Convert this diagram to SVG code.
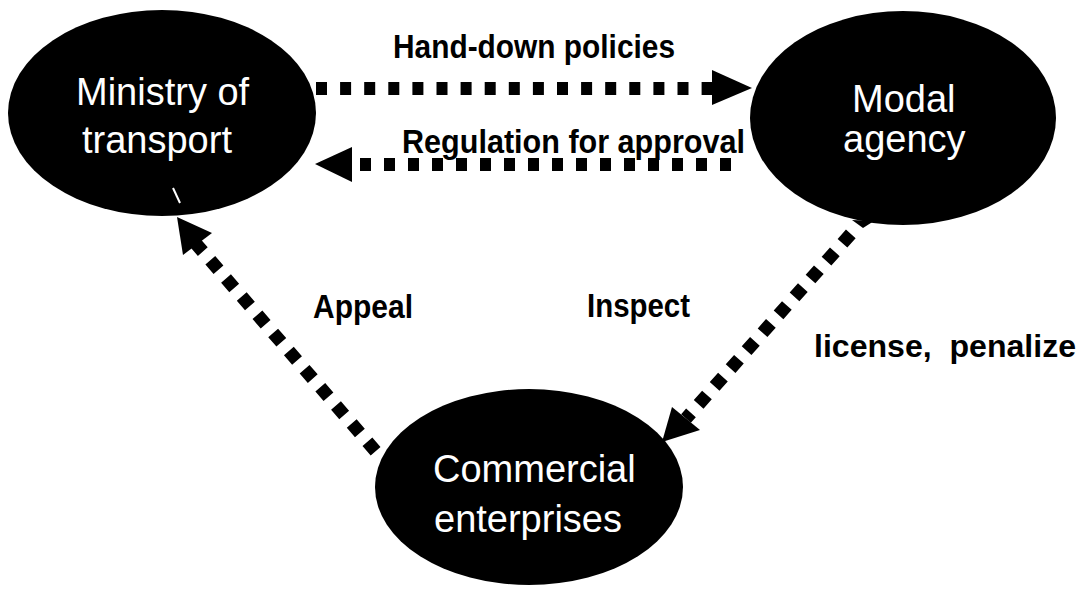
<svg xmlns="http://www.w3.org/2000/svg" width="1089" height="590" viewBox="0 0 1089 590">
  <style>
    .node { fill: #000; }
    .node-label { font-family: "Liberation Sans", Arial, sans-serif; font-size: 38px; fill: #fff; }
    .edge-label { font-family: "Liberation Sans", Arial, sans-serif; font-size: 34px; font-weight: bold; fill: #000; }
    .edge-label.side { font-size: 32px; }
    .dash { stroke: #000; stroke-width: 13; fill: none; stroke-linecap: butt; }
    .diag { stroke: #000; stroke-width: 13; fill: none; stroke-linecap: butt; stroke-dasharray: 12.5 11.5; }
    .head { fill: #000; }
  </style>
  <rect width="1089" height="590" fill="#fff"/>

  <!-- Nodes -->
  <g id="ministry">
    <ellipse class="node" cx="162" cy="113" rx="154" ry="103"/>
    <text class="node-label" x="76" y="105">Ministry of</text>
    <text class="node-label" x="82" y="153">transport</text>
    <line x1="173" y1="188" x2="180" y2="203" stroke="#fff" stroke-width="2"/>
  </g>

  <g id="modal-agency">
    <ellipse class="node" cx="903" cy="118" rx="153" ry="107"/>
    <polygon class="node" points="852,220 863,228 874,221"/>
    <text class="node-label" x="852" y="112">Modal</text>
    <text class="node-label" x="843" y="152">agency</text>
  </g>

  <g id="commercial">
    <ellipse class="node" cx="529" cy="487" rx="154" ry="98"/>
    <text class="node-label" x="433" y="482">Commercial</text>
    <text class="node-label" x="434" y="532">enterprises</text>
  </g>

  <!-- Connectors -->
  <g id="connectors">
    <!-- Ministry -> Modal agency -->
    <line class="dash" x1="316" y1="88.5" x2="714" y2="88.5" stroke-dasharray="11 13.1"/>
    <polygon class="head" points="712,70 752,88 712,105"/>

    <!-- Modal agency -> Ministry -->
    <line class="dash" x1="360" y1="164.5" x2="733" y2="164.5" stroke-dasharray="11 13"/>
    <polygon class="head" points="352,147 315,164 352,182"/>

    <!-- Commercial -> Ministry -->
    <line class="diag" x1="375.6" y1="451.2" x2="196" y2="243.8"/>
    <polygon class="head" points="177,217 183,255 212,233"/>

    <!-- Modal agency -> Commercial -->
    <line class="diag" x1="850.8" y1="233.9" x2="686" y2="418.5"/>
    <polygon class="head" points="662,442 672,407 700,430"/>
  </g>

  <!-- Connector labels -->
  <g id="labels">
    <text class="edge-label" x="393" y="58" textLength="282" lengthAdjust="spacingAndGlyphs">Hand-down policies</text>
    <text class="edge-label" x="402" y="153" textLength="343" lengthAdjust="spacingAndGlyphs">Regulation for approval</text>
    <text class="edge-label" x="313" y="318" textLength="100" lengthAdjust="spacingAndGlyphs">Appeal</text>
    <text class="edge-label" x="587" y="317" textLength="103" lengthAdjust="spacingAndGlyphs">Inspect</text>
    <text class="edge-label side" x="814" y="357" textLength="262" lengthAdjust="spacingAndGlyphs" xml:space="preserve">license,  penalize</text>
  </g>
</svg>
